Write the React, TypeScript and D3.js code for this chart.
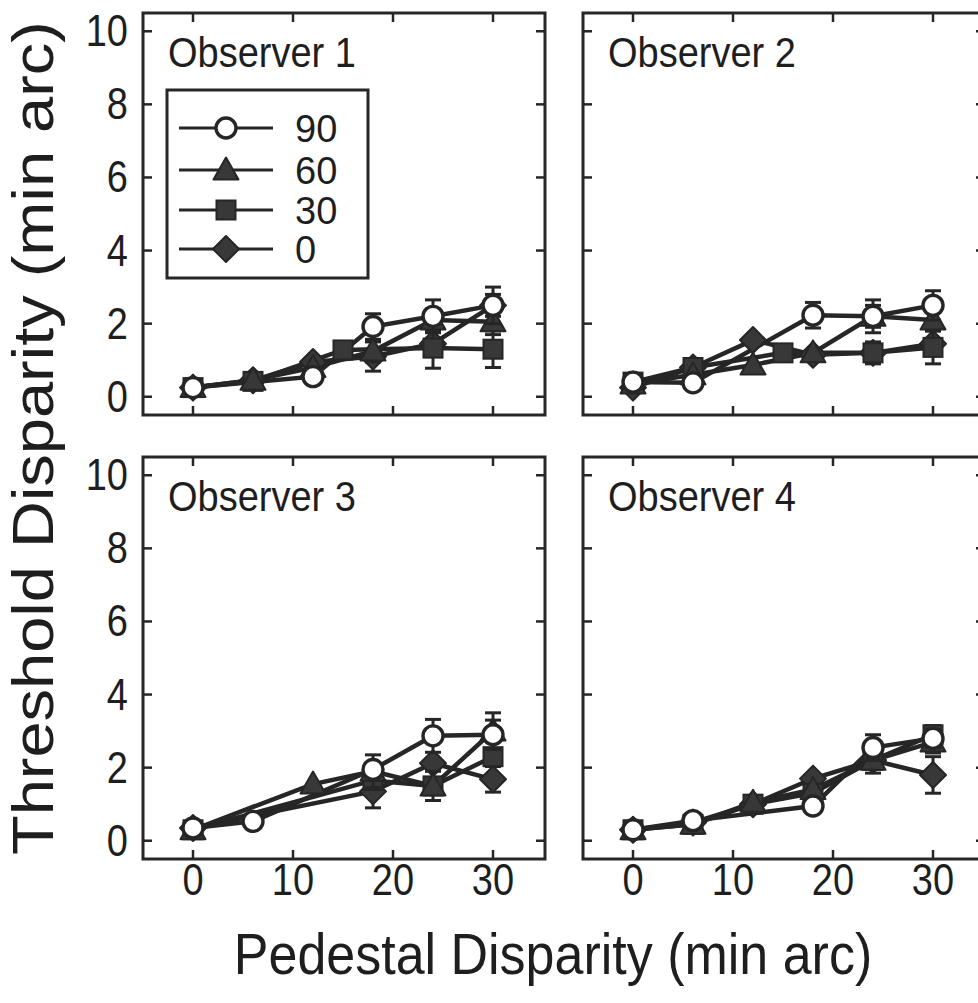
import * as d3 from "d3";

const xTicks = [0, 10, 20, 30];
const yTicks = [0, 2, 4, 6, 8, 10];
const seriesLabels = ["90", "60", "30", "0"];
const seriesShapes = ["circle", "triangle", "square", "diamond"];
const observerNames = ["Observer 1", "Observer 2", "Observer 3", "Observer 4"];

// [pedestal, threshold, error]
const obs1_90 = [[0, 0.25, 0], [12, 0.55, 0], [18, 1.92, 0.35], [24, 2.2, 0.45], [30, 2.5, 0.5]];
const obs1_60 = [[0, 0.25, 0], [6, 0.45, 0], [12, 0.8, 0], [18, 1.25, 0.3], [24, 2.1, 0.3], [30, 2.05, 0.35]];
const obs1_30 = [[0, 0.25, 0], [6, 0.42, 0], [15, 1.28, 0], [24, 1.33, 0.55], [30, 1.3, 0.5]];
const obs1_0 = [[0, 0.25, 0], [6, 0.45, 0], [12, 0.95, 0], [18, 1.1, 0.4], [24, 1.45, 0.35], [30, 2.5, 0.3]];

const obs2_90 = [[0, 0.4, 0], [6, 0.38, 0], [18, 2.23, 0.35], [24, 2.2, 0.3], [30, 2.5, 0.4]];
const obs2_60 = [[0, 0.35, 0], [6, 0.6, 0], [12, 0.87, 0], [18, 1.2, 0], [24, 2.2, 0.45], [30, 2.1, 0.3]];
const obs2_30 = [[0, 0.4, 0], [6, 0.8, 0], [15, 1.2, 0], [24, 1.2, 0.3], [30, 1.35, 0.45]];
const obs2_0 = [[0, 0.25, 0], [6, 0.8, 0], [12, 1.55, 0], [18, 1.15, 0], [24, 1.2, 0], [30, 1.45, 0]];

const obs3_90 = [[0, 0.35, 0], [6, 0.53, 0], [18, 1.95, 0], [24, 2.87, 0.45], [30, 2.9, 0.4]];
const obs3_60 = [[0, 0.3, 0], [12, 1.55, 0], [18, 1.9, 0.45], [24, 1.5, 0], [30, 3.0, 0.5]];
const obs3_30 = [[0, 0.3, 0], [18, 1.65, 0], [24, 1.5, 0.4], [30, 2.3, 0]];
const obs3_0 = [[0, 0.35, 0], [18, 1.35, 0.45], [24, 2.12, 0], [30, 1.68, 0.35]];

const obs4_90 = [[0, 0.3, 0], [6, 0.55, 0], [18, 0.95, 0], [24, 2.55, 0.35], [30, 2.8, 0.25]];
const obs4_60 = [[0, 0.3, 0], [6, 0.45, 0], [12, 1.05, 0], [18, 1.4, 0], [24, 2.2, 0.35], [30, 2.7, 0.3]];
const obs4_30 = [[0, 0.3, 0], [6, 0.45, 0], [12, 1.0, 0], [18, 1.3, 0], [24, 2.2, 0], [30, 2.9, 0.25]];
const obs4_0 = [[0, 0.3, 0], [6, 0.5, 0], [12, 1.0, 0], [18, 1.7, 0], [24, 2.2, 0], [30, 1.8, 0.5]];

const observers = [
  [obs1_90, obs1_60, obs1_30, obs1_0],
  [obs2_90, obs2_60, obs2_30, obs2_0],
  [obs3_90, obs3_60, obs3_30, obs3_0],
  [obs4_90, obs4_60, obs4_30, obs4_0],
];

const W = 978;
const H = 1003;
const panelLefts = [143, 583];
const panelTops = [13, 457];
const pw = 402;
const ph = 402;
const ink = "#262626";
const fillInk = "#383838";
const font = "'Liberation Sans', Arial, Helvetica, sans-serif";

function Txt({ x, y, size, sy = 1, anchor = "start", rotate = 0, sx = 1, children }: any) {
  return (
    <text
      transform={`translate(${x},${y}) rotate(${rotate}) scale(${sx},${sy})`}
      fontSize={size}
      textAnchor={anchor}
      fontFamily={font}
      fill="#1e1e1e"
    >
      {children}
    </text>
  );
}

function Marker({ shape, x, y }: any) {
  if (shape === "circle")
    return <circle cx={x} cy={y} r={10} fill="#fff" stroke={ink} strokeWidth={3.4} />;
  if (shape === "triangle") {
    const p = `M${x},${y - 12.5} L${x + 12.5},${y + 9.5} L${x - 12.5},${y + 9.5} Z`;
    return <path d={p} fill={fillInk} stroke={ink} strokeWidth={2} strokeLinejoin="round" />;
  }
  if (shape === "square")
    return <rect x={x - 9.5} y={y - 9.5} width={19} height={19} fill={fillInk} stroke={ink} strokeWidth={2} />;
  const p = `M${x},${y - 13} L${x + 13},${y} L${x},${y + 13} L${x - 13},${y} Z`;
  return <path d={p} fill={fillInk} stroke={ink} strokeWidth={2} strokeLinejoin="round" />;
}

function Panel({ idx }: { idx: number }) {
  const left = panelLefts[idx % 2];
  const top = panelTops[Math.floor(idx / 2)];
  const x = d3.scaleLinear().domain([-5, 35.2]).range([left, left + pw]);
  const y = d3.scaleLinear().domain([-0.5, 10.5]).range([top + ph, top]);
  const line = d3
    .line<number[]>()
    .x((d) => x(d[0]))
    .y((d) => y(d[1]));
  const data = observers[idx];
  const drawOrder = [3, 2, 1, 0];

  return (
    <g>
      <rect x={left} y={top} width={pw} height={ph} fill="none" stroke={ink} strokeWidth={3} />
      {xTicks.map((t) => (
        <g key={"x" + t}>
          <line x1={x(t)} x2={x(t)} y1={top + ph} y2={top + ph - 9} stroke={ink} strokeWidth={2.5} />
          <line x1={x(t)} x2={x(t)} y1={top} y2={top + 9} stroke={ink} strokeWidth={2.5} />
        </g>
      ))}
      {yTicks.map((t) => (
        <g key={"y" + t}>
          <line x1={left} x2={left + 9} y1={y(t)} y2={y(t)} stroke={ink} strokeWidth={2.5} />
          <line x1={left + pw} x2={left + pw - 9} y1={y(t)} y2={y(t)} stroke={ink} strokeWidth={2.5} />
        </g>
      ))}
      {idx % 2 === 0 &&
        yTicks.map((t) => (
          <Txt key={"yl" + t} x={left - 15} y={y(t) + 15} size={38} sy={1.15} anchor="end">
            {t}
          </Txt>
        ))}
      {idx >= 2 &&
        xTicks.map((t) => (
          <Txt key={"xl" + t} x={x(t)} y={895} size={38} sy={1.15} anchor="middle">
            {t}
          </Txt>
        ))}
      <Txt x={left + 25} y={top + 54} size={38} sy={1.13}>
        {observerNames[idx]}
      </Txt>
      {drawOrder.map((s) => (
        <path key={"l" + s} d={line(data[s] as number[][]) || ""} fill="none" stroke={ink} strokeWidth={4.5} />
      ))}
      {drawOrder.map((s) => (
        <g key={"m" + s}>
          {data[s].map((d, i) =>
            d[2] > 0 ? (
              <g key={"e" + i}>
                <line x1={x(d[0])} x2={x(d[0])} y1={y(d[1] - d[2])} y2={y(d[1] + d[2])} stroke={ink} strokeWidth={3} />
                <line x1={x(d[0]) - 8} x2={x(d[0]) + 8} y1={y(d[1] - d[2])} y2={y(d[1] - d[2])} stroke={ink} strokeWidth={3} />
                <line x1={x(d[0]) - 8} x2={x(d[0]) + 8} y1={y(d[1] + d[2])} y2={y(d[1] + d[2])} stroke={ink} strokeWidth={3} />
              </g>
            ) : null
          )}
          {data[s].map((d, i) => (
            <Marker key={i} shape={seriesShapes[s]} x={x(d[0])} y={y(d[1])} />
          ))}
        </g>
      ))}
    </g>
  );
}

function Legend() {
  const bx = 167;
  const by = 90;
  const rows = [128, 170, 210, 249];
  return (
    <g>
      <rect x={bx} y={by} width={201} height={188} fill="#fff" stroke={ink} strokeWidth={3} />
      {seriesLabels.map((lab, i) => (
        <g key={lab}>
          <line x1={179} x2={273} y1={rows[i]} y2={rows[i]} stroke={ink} strokeWidth={3} />
          <Marker shape={seriesShapes[i]} x={226} y={rows[i]} />
          <Txt x={295} y={rows[i] + 14} size={38}>
            {lab}
          </Txt>
        </g>
      ))}
    </g>
  );
}

export default function App() {
  return (
    <svg
      width={W}
      height={H}
      viewBox={`0 0 ${W} ${H}`}
      style={{ position: "absolute", left: 0, top: 0, background: "#fff" }}
    >
      <rect x={0} y={0} width={W} height={H} fill="#fff" />
      {[0, 1, 2, 3].map((i) => (
        <Panel key={i} idx={i} />
      ))}
      <Legend />
      <Txt x={553} y={974} size={52} sy={1.12} anchor="middle">
        Pedestal Disparity (min arc)
      </Txt>
      <Txt x={53} y={438} size={57} rotate={-90} sx={1.14} anchor="middle">
        Threshold Disparity (min arc)
      </Txt>
    </svg>
  );
}
